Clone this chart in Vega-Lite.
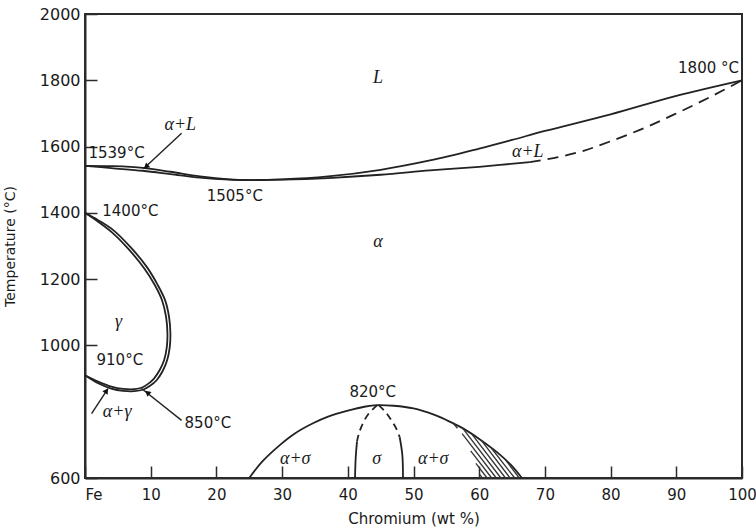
{
  "$schema": "https://vega.github.io/schema/vega-lite/v6.json",
  "width": 657,
  "height": 464,
  "autosize": {"type": "none"},
  "padding": {"left": 85, "top": 14, "right": 14, "bottom": 51},
  "background": "white",
  "config": {
    "view": {"stroke": "#2b2b2b", "strokeWidth": 2},
    "font": "DejaVu Sans",
    "axis": {
      "domainColor": "#2b2b2b", "domainWidth": 2,
      "tickColor": "#2b2b2b", "tickWidth": 1.5, "tickSize": -12,
      "labelFontSize": 16, "labelColor": "#1a1a1a", "labelFont": "DejaVu Sans",
      "titleFontWeight": "normal", "titleColor": "#1a1a1a", "titleFont": "DejaVu Sans",
      "grid": false
    }
  },
  "datasets": {
    "curves": [
      {"c": "liquidus", "i": 0, "x": 0, "y": 1542},
      {"c": "liquidus", "i": 1, "x": 4, "y": 1541},
      {"c": "liquidus", "i": 2, "x": 8.8, "y": 1536},
      {"c": "liquidus", "i": 3, "x": 13, "y": 1524},
      {"c": "liquidus", "i": 4, "x": 17.5, "y": 1510},
      {"c": "liquidus", "i": 5, "x": 22, "y": 1501},
      {"c": "liquidus", "i": 6, "x": 25, "y": 1499},
      {"c": "liquidus", "i": 7, "x": 30, "y": 1501},
      {"c": "liquidus", "i": 8, "x": 37, "y": 1510},
      {"c": "liquidus", "i": 9, "x": 45, "y": 1530},
      {"c": "liquidus", "i": 10, "x": 52.5, "y": 1558},
      {"c": "liquidus", "i": 11, "x": 60, "y": 1594},
      {"c": "liquidus", "i": 12, "x": 65, "y": 1620},
      {"c": "liquidus", "i": 13, "x": 70, "y": 1647},
      {"c": "liquidus", "i": 14, "x": 80, "y": 1697},
      {"c": "liquidus", "i": 15, "x": 90, "y": 1753},
      {"c": "liquidus", "i": 16, "x": 100, "y": 1800},
      {"c": "solidus", "i": 0, "x": 0, "y": 1542},
      {"c": "solidus", "i": 1, "x": 4, "y": 1535},
      {"c": "solidus", "i": 2, "x": 8.8, "y": 1527},
      {"c": "solidus", "i": 3, "x": 13, "y": 1517},
      {"c": "solidus", "i": 4, "x": 17.5, "y": 1506},
      {"c": "solidus", "i": 5, "x": 22, "y": 1500},
      {"c": "solidus", "i": 6, "x": 25, "y": 1499},
      {"c": "solidus", "i": 7, "x": 30, "y": 1500},
      {"c": "solidus", "i": 8, "x": 37, "y": 1505},
      {"c": "solidus", "i": 9, "x": 45, "y": 1515},
      {"c": "solidus", "i": 10, "x": 52.5, "y": 1528},
      {"c": "solidus", "i": 11, "x": 60, "y": 1539},
      {"c": "solidus", "i": 12, "x": 67.7, "y": 1553},
      {"c": "solidus_ext", "i": 0, "x": 67.7, "y": 1553},
      {"c": "solidus_ext", "i": 1, "x": 72, "y": 1568},
      {"c": "solidus_ext", "i": 2, "x": 76, "y": 1588},
      {"c": "solidus_ext", "i": 3, "x": 80, "y": 1616},
      {"c": "solidus_ext", "i": 4, "x": 85, "y": 1655},
      {"c": "solidus_ext", "i": 5, "x": 90, "y": 1700},
      {"c": "solidus_ext", "i": 6, "x": 95, "y": 1748},
      {"c": "solidus_ext", "i": 7, "x": 100, "y": 1800},
      {"c": "gamma_outer", "i": 0, "x": 0, "y": 1400},
      {"c": "gamma_outer", "i": 1, "x": 2, "y": 1378},
      {"c": "gamma_outer", "i": 2, "x": 4.3, "y": 1348},
      {"c": "gamma_outer", "i": 3, "x": 7, "y": 1295},
      {"c": "gamma_outer", "i": 4, "x": 9.4, "y": 1237},
      {"c": "gamma_outer", "i": 5, "x": 11, "y": 1185},
      {"c": "gamma_outer", "i": 6, "x": 12.2, "y": 1136},
      {"c": "gamma_outer", "i": 7, "x": 12.8, "y": 1085},
      {"c": "gamma_outer", "i": 8, "x": 13, "y": 1036},
      {"c": "gamma_outer", "i": 9, "x": 12.9, "y": 995},
      {"c": "gamma_outer", "i": 10, "x": 12.5, "y": 955},
      {"c": "gamma_outer", "i": 11, "x": 11.8, "y": 922},
      {"c": "gamma_outer", "i": 12, "x": 10.9, "y": 895},
      {"c": "gamma_outer", "i": 13, "x": 9.9, "y": 878},
      {"c": "gamma_outer", "i": 14, "x": 8.9, "y": 867},
      {"c": "gamma_outer", "i": 15, "x": 7.5, "y": 862},
      {"c": "gamma_outer", "i": 16, "x": 5.8, "y": 863},
      {"c": "gamma_outer", "i": 17, "x": 4, "y": 870},
      {"c": "gamma_outer", "i": 18, "x": 2, "y": 886},
      {"c": "gamma_outer", "i": 19, "x": 0, "y": 910},
      {"c": "gamma_inner", "i": 0, "x": 0, "y": 1400},
      {"c": "gamma_inner", "i": 1, "x": 2, "y": 1373},
      {"c": "gamma_inner", "i": 2, "x": 4.1, "y": 1341},
      {"c": "gamma_inner", "i": 3, "x": 6.7, "y": 1289},
      {"c": "gamma_inner", "i": 4, "x": 9, "y": 1233},
      {"c": "gamma_inner", "i": 5, "x": 10.6, "y": 1183},
      {"c": "gamma_inner", "i": 6, "x": 11.75, "y": 1135},
      {"c": "gamma_inner", "i": 7, "x": 12.35, "y": 1085},
      {"c": "gamma_inner", "i": 8, "x": 12.55, "y": 1036},
      {"c": "gamma_inner", "i": 9, "x": 12.45, "y": 995},
      {"c": "gamma_inner", "i": 10, "x": 12.05, "y": 956},
      {"c": "gamma_inner", "i": 11, "x": 11.35, "y": 925},
      {"c": "gamma_inner", "i": 12, "x": 10.5, "y": 900},
      {"c": "gamma_inner", "i": 13, "x": 9.6, "y": 884},
      {"c": "gamma_inner", "i": 14, "x": 8.7, "y": 873},
      {"c": "gamma_inner", "i": 15, "x": 7.5, "y": 868},
      {"c": "gamma_inner", "i": 16, "x": 5.8, "y": 869},
      {"c": "gamma_inner", "i": 17, "x": 4, "y": 876},
      {"c": "gamma_inner", "i": 18, "x": 2, "y": 891},
      {"c": "gamma_inner", "i": 19, "x": 0, "y": 910},
      {"c": "sigma_outer", "i": 0, "x": 25, "y": 600},
      {"c": "sigma_outer", "i": 1, "x": 27, "y": 650},
      {"c": "sigma_outer", "i": 2, "x": 29.7, "y": 700},
      {"c": "sigma_outer", "i": 3, "x": 32, "y": 735},
      {"c": "sigma_outer", "i": 4, "x": 34.7, "y": 765},
      {"c": "sigma_outer", "i": 5, "x": 37, "y": 785},
      {"c": "sigma_outer", "i": 6, "x": 40, "y": 803},
      {"c": "sigma_outer", "i": 7, "x": 42.5, "y": 815},
      {"c": "sigma_outer", "i": 8, "x": 44.5, "y": 820},
      {"c": "sigma_outer", "i": 9, "x": 47, "y": 818},
      {"c": "sigma_outer", "i": 10, "x": 50, "y": 810},
      {"c": "sigma_outer", "i": 11, "x": 53, "y": 792},
      {"c": "sigma_outer", "i": 12, "x": 55.1, "y": 774},
      {"c": "sigma_outer", "i": 13, "x": 57.6, "y": 749},
      {"c": "sigma_outer", "i": 14, "x": 60, "y": 718},
      {"c": "sigma_outer", "i": 15, "x": 62.7, "y": 678},
      {"c": "sigma_outer", "i": 16, "x": 64.8, "y": 640},
      {"c": "sigma_outer", "i": 17, "x": 66.5, "y": 600},
      {"c": "sigma_left_dash", "i": 0, "x": 44.5, "y": 820},
      {"c": "sigma_left_dash", "i": 1, "x": 43.2, "y": 795},
      {"c": "sigma_left_dash", "i": 2, "x": 42.3, "y": 765},
      {"c": "sigma_left_dash", "i": 3, "x": 41.7, "y": 735},
      {"c": "sigma_left_dash", "i": 4, "x": 41.4, "y": 710},
      {"c": "sigma_left_solid", "i": 0, "x": 41.4, "y": 710},
      {"c": "sigma_left_solid", "i": 1, "x": 41.2, "y": 660},
      {"c": "sigma_left_solid", "i": 2, "x": 41.1, "y": 600},
      {"c": "sigma_right_dash", "i": 0, "x": 44.7, "y": 820},
      {"c": "sigma_right_dash", "i": 1, "x": 45.7, "y": 800},
      {"c": "sigma_right_dash", "i": 2, "x": 46.6, "y": 775},
      {"c": "sigma_right_dash", "i": 3, "x": 47.4, "y": 748},
      {"c": "sigma_right_dash", "i": 4, "x": 47.9, "y": 723},
      {"c": "sigma_right_solid", "i": 0, "x": 47.9, "y": 723},
      {"c": "sigma_right_solid", "i": 1, "x": 48.3, "y": 670},
      {"c": "sigma_right_solid", "i": 2, "x": 48.4, "y": 600}
    ],
    "hatch": [
      {"x": 60.1, "y": 610, "x2": 60.5, "y2": 600},
      {"x": 59.5, "y": 644, "x2": 61.2, "y2": 600},
      {"x": 58.7, "y": 682, "x2": 61.9, "y2": 600},
      {"x": 57.4, "y": 734, "x2": 62.6, "y2": 600},
      {"x": 57.5, "y": 750, "x2": 63.3, "y2": 600},
      {"x": 58.85, "y": 733, "x2": 64.0, "y2": 600},
      {"x": 60.3, "y": 714, "x2": 64.7, "y2": 600},
      {"x": 61.9, "y": 689, "x2": 65.4, "y2": 600},
      {"x": 64.0, "y": 655, "x2": 66.1, "y2": 600},
      {"x": 56.0, "y": 766, "x2": 56.7, "y2": 750}
    ],
    "arrows": [
      {"a": "aL", "x": 14.7, "y": 1640, "x2": 8.9, "y2": 1533},
      {"a": "t850", "x": 14.7, "y": 774, "x2": 8.6, "y2": 870},
      {"a": "ag", "x": 1.0, "y": 794, "x2": 3.5, "y2": 870}
    ],
    "heads": [
      {"a": "aL", "x": 9.4, "y": 1541},
      {"a": "t850", "x": 9.6, "y": 856},
      {"a": "ag", "x": 3.2, "y": 861}
    ],
    "temps": [
      {"t": "1539°C", "x": 4.8, "y": 1580},
      {"t": "1505°C", "x": 22.8, "y": 1450},
      {"t": "1800 °C", "x": 94.9, "y": 1837},
      {"t": "1400°C", "x": 6.9, "y": 1405},
      {"t": "910°C", "x": 5.3, "y": 955},
      {"t": "850°C", "x": 18.7, "y": 765},
      {"t": "820°C", "x": 43.8, "y": 858}
    ],
    "phases": [
      {"t": "L", "x": 44.6, "y": 1807},
      {"t": "α+L", "x": 14.5, "y": 1665},
      {"t": "α+L", "x": 67.4, "y": 1584},
      {"t": "α", "x": 44.6, "y": 1311},
      {"t": "γ", "x": 5.1, "y": 1071},
      {"t": "α+γ", "x": 4.9, "y": 799},
      {"t": "α+σ", "x": 32, "y": 658},
      {"t": "σ", "x": 44.4, "y": 658},
      {"t": "α+σ", "x": 53, "y": 658}
    ]
  },
  "encoding": {
    "x": {"field": "x", "type": "quantitative",
      "scale": {"domain": [0, 100], "nice": false, "zero": false},
      "axis": {"values": [0, 10, 20, 30, 40, 50, 60, 70, 80, 90, 100],
        "labelExpr": "datum.value === 0 ? 'Fe' : datum.label",
        "labelAlign": {"condition": {"test": "datum.value === 0", "value": "left"}, "value": "center"},
        "labelFontSize": 15,
        "labelPadding": 21, "labelFlush": false, "title": "Chromium (wt %)", "titleFontSize": 15, "titlePadding": 9}},
    "y": {"field": "y", "type": "quantitative",
      "scale": {"domain": [600, 2000], "nice": false, "zero": false},
      "axis": {"values": [600, 1000, 1200, 1400, 1600, 1800, 2000], "format": "d",
        "labelPadding": 17, "labelFlush": false, "title": "Temperature (°C)", "titleFontSize": 14, "titlePadding": 22}}
  },
  "layer": [
    {
      "data": {"name": "curves"},
      "transform": [{"filter": {"field": "c", "oneOf": ["liquidus", "solidus", "gamma_outer", "gamma_inner", "sigma_outer", "sigma_left_solid", "sigma_right_solid"]}}],
      "mark": {"type": "line", "interpolate": "catmull-rom", "stroke": "#222", "strokeWidth": 1.8},
      "encoding": {"detail": {"field": "c"}, "order": {"field": "i", "type": "quantitative"}}
    },
    {
      "data": {"name": "curves"},
      "transform": [{"filter": {"field": "c", "equal": "solidus_ext"}}],
      "mark": {"type": "line", "interpolate": "catmull-rom", "stroke": "#222", "strokeWidth": 1.8, "strokeDash": [11, 7]},
      "encoding": {"order": {"field": "i", "type": "quantitative"}}
    },
    {
      "data": {"name": "curves"},
      "transform": [{"filter": {"field": "c", "oneOf": ["sigma_left_dash", "sigma_right_dash"]}}],
      "mark": {"type": "line", "interpolate": "catmull-rom", "stroke": "#222", "strokeWidth": 1.8, "strokeDash": [7, 5]},
      "encoding": {"detail": {"field": "c"}, "order": {"field": "i", "type": "quantitative"}}
    },
    {
      "data": {"name": "hatch"},
      "mark": {"type": "rule", "stroke": "#333", "strokeWidth": 1.3},
      "encoding": {"x2": {"field": "x2"}, "y2": {"field": "y2"}}
    },
    {
      "data": {"name": "arrows"},
      "mark": {"type": "rule", "stroke": "#222", "strokeWidth": 1.4},
      "encoding": {"x2": {"field": "x2"}, "y2": {"field": "y2"}}
    },
    {
      "data": {"name": "heads"},
      "transform": [{"filter": {"field": "a", "equal": "aL"}}],
      "mark": {"type": "point", "shape": "triangle", "filled": true, "color": "#111", "size": 40, "angle": 229, "opacity": 1}
    },
    {
      "data": {"name": "heads"},
      "transform": [{"filter": {"field": "a", "equal": "t850"}}],
      "mark": {"type": "point", "shape": "triangle", "filled": true, "color": "#111", "size": 40, "angle": 310, "opacity": 1}
    },
    {
      "data": {"name": "heads"},
      "transform": [{"filter": {"field": "a", "equal": "ag"}}],
      "mark": {"type": "point", "shape": "triangle", "filled": true, "color": "#111", "size": 40, "angle": 34, "opacity": 1}
    },
    {
      "data": {"name": "temps"},
      "mark": {"type": "text", "font": "DejaVu Sans", "fontSize": 15, "color": "#1a1a1a", "align": "center", "baseline": "middle"},
      "encoding": {"text": {"field": "t"}}
    },
    {
      "data": {"name": "phases"},
      "mark": {"type": "text", "font": "Liberation Serif", "fontStyle": "italic", "fontSize": 18, "color": "#1a1a1a", "align": "center", "baseline": "middle"},
      "encoding": {"text": {"field": "t"}}
    }
  ]
}
